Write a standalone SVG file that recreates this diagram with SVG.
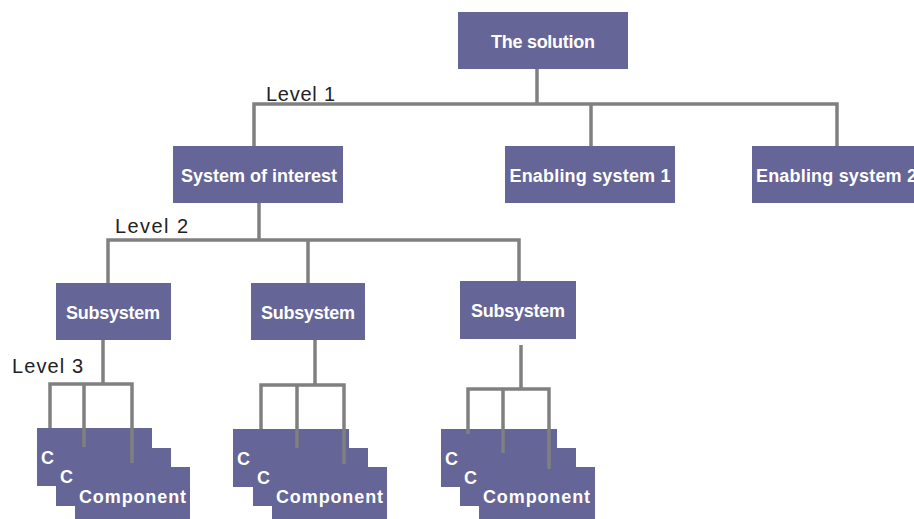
<svg xmlns="http://www.w3.org/2000/svg" width="914" height="519" viewBox="0 0 914 519">
<style>
.box{fill:#656597;}
.lbl{fill:#ffffff;font-family:"Liberation Sans",Arial,sans-serif;font-weight:bold;font-size:18px;}
.c{text-anchor:middle;}
.lvl{fill:#222222;font-family:"Liberation Sans",Arial,sans-serif;font-size:20px;}
.con{fill:none;stroke:#808080;stroke-width:3.5;}
</style>
<rect width="914" height="519" fill="#ffffff"/>
<g id="node-solution"><rect class="box" x="458" y="12" width="170" height="57"/><text class="lbl c" x="543" y="48" textLength="104" lengthAdjust="spacing">The solution</text></g>
<g id="node-soi"><rect class="box" x="173" y="146" width="170" height="57"/><text class="lbl c" x="259" y="182" textLength="156" lengthAdjust="spacing">System of interest</text></g>
<g id="node-es1"><rect class="box" x="505" y="146" width="170" height="57"/><text class="lbl c" x="590" y="182" textLength="161" lengthAdjust="spacing">Enabling system 1</text></g>
<g id="node-es2"><rect class="box" x="752" y="146" width="170" height="57"/><text class="lbl" x="756" y="182" textLength="161" lengthAdjust="spacing">Enabling system 2</text></g>
<g id="node-sub1"><rect class="box" x="56" y="283" width="115" height="57"/><text class="lbl c" x="113" y="319" textLength="94" lengthAdjust="spacing">Subsystem</text></g>
<g id="node-sub2"><rect class="box" x="251" y="283" width="114" height="57"/><text class="lbl c" x="308" y="319" textLength="94" lengthAdjust="spacing">Subsystem</text></g>
<g id="node-sub3"><rect class="box" x="460" y="281" width="116" height="58"/><text class="lbl c" x="518" y="317" textLength="94" lengthAdjust="spacing">Subsystem</text></g>
<g id="node-comp1a"><rect class="box" x="37" y="428" width="115" height="58"/><text class="lbl" x="41" y="464">C</text></g>
<g id="node-comp1b"><rect class="box" x="56" y="448" width="115" height="58"/><text class="lbl" x="60" y="483">C</text></g>
<g id="node-comp1c"><rect class="box" x="75" y="467" width="115" height="58"/><text class="lbl" x="79" y="503" textLength="107" lengthAdjust="spacing">Component</text></g>
<g id="node-comp2a"><rect class="box" x="233" y="429" width="116" height="58"/><text class="lbl" x="237" y="465">C</text></g>
<g id="node-comp2b"><rect class="box" x="253" y="448" width="115" height="58"/><text class="lbl" x="257" y="484">C</text></g>
<g id="node-comp2c"><rect class="box" x="272" y="467" width="115" height="58"/><text class="lbl" x="276" y="503" textLength="107" lengthAdjust="spacing">Component</text></g>
<g id="node-comp3a"><rect class="box" x="441" y="429" width="116" height="58"/><text class="lbl" x="445" y="465">C</text></g>
<g id="node-comp3b"><rect class="box" x="460" y="448" width="116" height="58"/><text class="lbl" x="464" y="484">C</text></g>
<g id="node-comp3c"><rect class="box" x="479" y="467" width="116" height="58"/><text class="lbl" x="483" y="503" textLength="107" lengthAdjust="spacing">Component</text></g>
<g id="connectors">
<path class="con" d="M537 69V104M254 146V104H837V146M591 104V146"/>
<path class="con" d="M259 203V240M108 283V240H519V281M308 240V283"/>
<path class="con" d="M103 340V384M50 428V384H132V463M84 384V447"/>
<path class="con" d="M315 340V385M261 429V385H344V464M297 385V448"/>
<path class="con" d="M521 345V389M468 434V389H549V469M503 389V453"/>
</g>
<g id="labels">
<text class="lvl" x="266" y="101" textLength="69" lengthAdjust="spacing">Level 1</text>
<text class="lvl" x="115" y="233" textLength="73" lengthAdjust="spacing">Level 2</text>
<text class="lvl" x="12" y="373" textLength="71" lengthAdjust="spacing">Level 3</text>
</g>
</svg>
